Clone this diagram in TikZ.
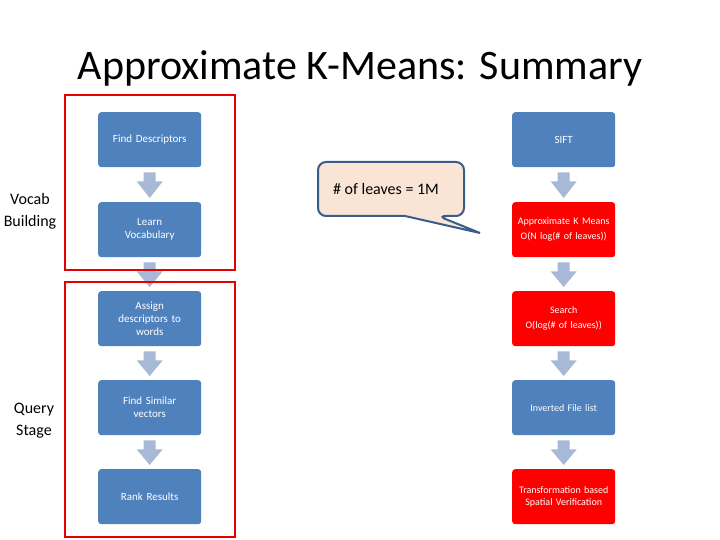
\documentclass[tikz,border=0pt]{standalone}
\usepackage{fontspec}
\setmainfont{Carlito}
\usetikzlibrary{calc}
\begin{document}
\begin{tikzpicture}[x=1pt,y=-1pt,
 bbox/.style={rounded corners=3pt,minimum width=103pt,minimum height=55pt,text width=100pt,align=center,text=white,font=\fontsize{11}{13}\selectfont,anchor=north west,inner sep=1pt},
 blue/.style={bbox,fill={rgb,255:red,79;green,129;blue,189}},
 redb/.style={bbox,fill={rgb,255:red,255;green,0;blue,0},font=\fontsize{10}{12}\selectfont},
 arr/.style={fill={rgb,255:red,167;green,185;blue,215},draw=none},
 frame/.style={draw={rgb,255:red,230;green,0;blue,0},line width=1.5pt}]
\useasboundingbox (0,0) rectangle (720,540);
\node (title) at (360,68) {\fontsize{42}{48}\selectfont Approximate K-Means: Summary};
\foreach \n/\y/\t in {a/112/Find Descriptors,b/202/{Learn\\Vocabulary},c/291/{Assign\\descriptors to\\words},d/380/{Find Similar\\vectors},e/469/Rank Results}
  \node[blue] (\n) at (98,\y) {\t};
\node[blue] (ra) at (512,112) {SIFT};
\node[redb] (rb) at (512,202) {Approximate K Means\\[3pt] O(N log(\# of leaves))};
\node[redb] (rc) at (512,291) {Search\\[3pt] O(log(\# of leaves))};
\node[blue,font=\fontsize{10}{12}\selectfont] (rd) at (512,380) {Inverted File list};
\node[redb] (re) at (512,469) {Transformation based\\Spatial Verification};
\foreach \p/\q in {a/b,b/c,c/d,d/e,ra/rb,rb/rc,rc/rd,rd/re}{
  \path (\p.south) ++(0,5) coordinate (s\p);
  \fill[arr] ($(s\p)+(-6,0)$) -- ++(12,0) -- ++(0,9) -- ++(7,0) -- ($(\q.north)+(0,-4)$) -- ($(s\p)+(-13,9)$) -- ++(7,0) -- cycle;
}
\draw[frame] (65,95) rectangle (235,270);
\draw[frame] (65,282) rectangle (235,537);
\node[align=center,font=\fontsize{16}{22}\selectfont] (vb) at (30,211) {Vocab\\Building};
\node[align=center,font=\fontsize{16}{22}\selectfont] (qs) at (34,421) {Query\\Stage};
\coordinate (tip) at (480,233);
\draw[line width=2pt,draw={rgb,255:red,56;green,93;blue,138},fill={rgb,255:red,250;green,228;blue,213},rounded corners=8pt]
 (318,162) -- (464,162) -- (464,216) -- (438,216) [sharp corners] -- (tip) -- (405,216) [rounded corners=8pt] -- (318,216) -- cycle;
\node[font=\fontsize{16}{19}\selectfont] (cl) at (386,189) {\# of leaves = 1M};
\end{tikzpicture}
\end{document}
